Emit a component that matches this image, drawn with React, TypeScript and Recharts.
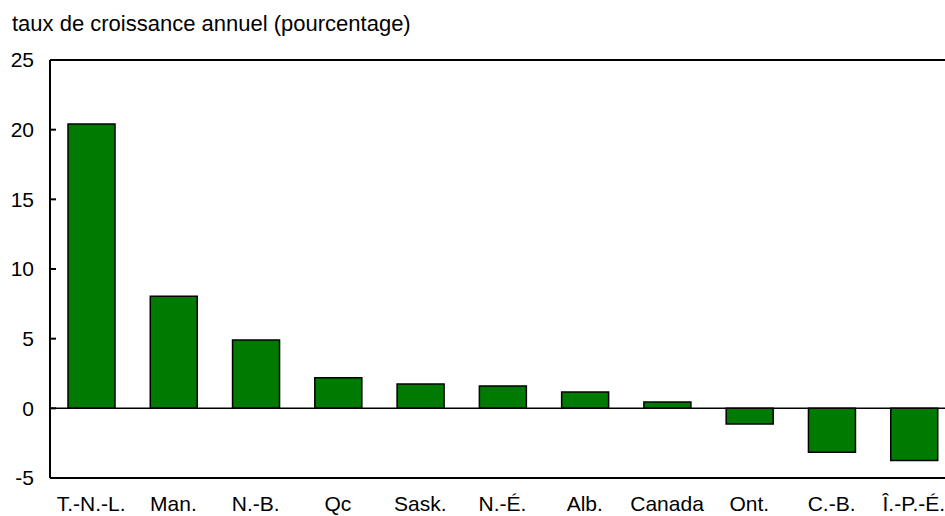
import React from "react";
import { BarChart, Bar, XAxis, YAxis, ReferenceLine } from "recharts";

const categories = ["T.-N.-L.", "Man.", "N.-B.", "Qc", "Sask.", "N.-É.", "Alb.", "Canada", "Ont.", "C.-B.", "Î.-P.-É."];
const values = [20.4, 8.05, 4.9, 2.2, 1.75, 1.6, 1.17, 0.45, -1.13, -3.16, -3.74];
const yTicks = [-5, 0, 5, 10, 15, 20, 25];
const title = "taux de croissance annuel (pourcentage)";

const data = categories.map((c, i) => ({ name: c, value: values[i] }));

const FONT = "'Liberation Sans', Arial, Helvetica, sans-serif";

export default function App() {
  return (
    <div
      style={{
        position: "absolute",
        left: 0,
        top: 0,
        width: 945,
        height: 516,
        overflow: "hidden",
        background: "#fff",
        fontFamily: FONT,
      }}
    >
      <div
        style={{
          position: "absolute",
          left: 12,
          top: 11,
          fontSize: 22,
          color: "#000",
          whiteSpace: "nowrap",
          lineHeight: "26px",
        }}
      >
        {title}
      </div>
      <div style={{ position: "absolute", left: 0, top: 0 }}>
        <BarChart
          width={963}
          height={516}
          data={data}
          margin={{ top: 60, right: 8, bottom: 0, left: 0 }}
          barCategoryGap={0}
        >
          <XAxis
            dataKey="name"
            height={38}
            tickLine={false}
            axisLine={{ stroke: "#000", strokeWidth: 2 }}
            tick={{ fill: "#000", fontSize: 21, fontFamily: FONT }}
            tickMargin={12}
            interval={0}
          />
          <YAxis
            width={50}
            domain={[-5, 25]}
            ticks={yTicks}
            interval={0}
            allowDataOverflow
            axisLine={{ stroke: "#000", strokeWidth: 2 }}
            tickLine={{ stroke: "#000", strokeWidth: 2 }}
            tickSize={-6}
            tickMargin={22}
            tick={{ fill: "#000", fontSize: 21, fontFamily: FONT }}
          />
          <ReferenceLine y={25} stroke="#000" strokeWidth={2} />
          <ReferenceLine y={0} stroke="#000" strokeWidth={1.5} />
          <Bar
            dataKey="value"
            fill="#007a00"
            stroke="#000"
            strokeWidth={1.5}
            barSize={47}
            isAnimationActive={false}
          />
        </BarChart>
      </div>
    </div>
  );
}
